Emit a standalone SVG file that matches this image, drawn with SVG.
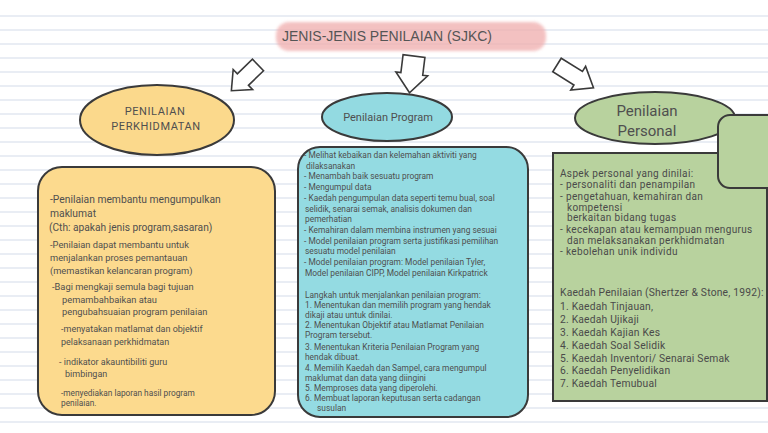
<svg xmlns="http://www.w3.org/2000/svg" width="768" height="433" viewBox="0 0 768 433">
<defs>
<style>
.rule{stroke:#e2e7f0;stroke-width:1.3}
.node{stroke:#3a3a3a;stroke-width:2}
.arrow{fill:#ffffff;stroke:#3a3a3a;stroke-width:1.6;stroke-linejoin:miter}
.t{font-family:Roboto,"Liberation Sans",sans-serif;fill:#4f4f4f}
.ly{font-size:9.3px}
.mb{font-size:8.4px}
.gr{font-size:10px;letter-spacing:0.35px;fill:#4a4a4a}
.gk{font-size:10.3px;letter-spacing:0.2px;fill:#4a4a4a}
</style>
<filter id="soft" x="-5%" y="-20%" width="110%" height="140%"><feGaussianBlur stdDeviation="1.6"/></filter>
</defs>
<rect width="768" height="433" fill="#ffffff"/>
<g id="paper">
<line class="rule" x1="0" y1="16" x2="768" y2="16"/>
<line class="rule" x1="0" y1="30" x2="768" y2="30"/>
<line class="rule" x1="0" y1="44" x2="768" y2="44"/>
<line class="rule" x1="0" y1="58" x2="768" y2="58"/>
<line class="rule" x1="0" y1="72" x2="768" y2="72"/>
<line class="rule" x1="0" y1="86" x2="768" y2="86"/>
<line class="rule" x1="0" y1="100" x2="768" y2="100"/>
<line class="rule" x1="0" y1="114" x2="768" y2="114"/>
<line class="rule" x1="0" y1="128" x2="768" y2="128"/>
<line class="rule" x1="0" y1="142" x2="768" y2="142"/>
<line class="rule" x1="0" y1="156" x2="768" y2="156"/>
<line class="rule" x1="0" y1="170" x2="768" y2="170"/>
<line class="rule" x1="0" y1="184" x2="768" y2="184"/>
<line class="rule" x1="0" y1="198" x2="768" y2="198"/>
<line class="rule" x1="0" y1="212" x2="768" y2="212"/>
<line class="rule" x1="0" y1="226" x2="768" y2="226"/>
<line class="rule" x1="0" y1="240" x2="768" y2="240"/>
<line class="rule" x1="0" y1="254" x2="768" y2="254"/>
<line class="rule" x1="0" y1="268" x2="768" y2="268"/>
<line class="rule" x1="0" y1="282" x2="768" y2="282"/>
<line class="rule" x1="0" y1="296" x2="768" y2="296"/>
<line class="rule" x1="0" y1="310" x2="768" y2="310"/>
<line class="rule" x1="0" y1="324" x2="768" y2="324"/>
<line class="rule" x1="0" y1="338" x2="768" y2="338"/>
<line class="rule" x1="0" y1="352" x2="768" y2="352"/>
<line class="rule" x1="0" y1="366" x2="768" y2="366"/>
<line class="rule" x1="0" y1="380" x2="768" y2="380"/>
<line class="rule" x1="0" y1="394" x2="768" y2="394"/>
<line class="rule" x1="0" y1="408" x2="768" y2="408"/>
<line class="rule" x1="0" y1="422" x2="768" y2="422"/>
</g>

<g id="title">
<rect x="276" y="22" width="270" height="29" rx="13" fill="#f0adad" opacity="0.75" filter="url(#soft)"/>
<text x="387" y="41" text-anchor="middle" style="font-family:'Liberation Sans',Arial,sans-serif;font-size:14px;fill:#555555">JENIS-JENIS PENILAIAN (SJKC)</text>
</g>

<g id="connectors">
<polygon class="arrow" transform="translate(258,65) rotate(136)" points="0,-8 21,-8 21,-14 37,0 21,14 21,8 0,8"/>
<polygon class="arrow" transform="translate(414,56) rotate(97)" points="0,-11 18,-11 18,-16 37,0 18,16 18,11 0,11"/>
<polygon class="arrow" transform="translate(557,65) rotate(32)" points="0,-8 25,-8 25,-14 43,0 25,14 25,8 0,8"/>
</g>

<g id="node-perkhidmatan">
<ellipse class="node" cx="157" cy="120" rx="77" ry="35" fill="#fbd98c"/>
<text class="t" x="155" y="115" text-anchor="middle" style="font-size:11px;letter-spacing:0.6px">PENILAIAN</text>
<text class="t" x="156" y="130" text-anchor="middle" style="font-size:11px;letter-spacing:0.6px">PERKHIDMATAN</text>
</g>

<g id="node-program">
<ellipse class="node" cx="387" cy="117" rx="65" ry="24" fill="#93dae1"/>
<text class="t" x="388" y="121" text-anchor="middle" style="font-size:11px">Penilaian Program</text>
</g>

<g id="node-personal">
<ellipse class="node" cx="655" cy="118" rx="80" ry="26" fill="#b8d29e"/>
<text class="t" x="647" y="116" text-anchor="middle" style="font-size:15px">Penilaian</text>
<text class="t" x="647" y="136" text-anchor="middle" style="font-size:15px">Personal</text>
</g>

<g id="box-perkhidmatan">
<rect class="node" x="38" y="167" width="237" height="248" rx="24" fill="#fcda8e"/>
<text class="t" x="50" y="203" style="font-size:10.3px">-Penilaian membantu mengumpulkan</text>
<text class="t" x="50" y="217" style="font-size:10.3px">maklumat</text>
<text class="t" x="49" y="231" style="font-size:10.2px">(Cth: apakah jenis program,sasaran)</text>
<text class="t ly" x="50" y="248">-Penilaian dapat membantu untuk</text>
<text class="t ly" x="50" y="261">menjalankan proses pemantauan</text>
<text class="t ly" x="50" y="274">(memastikan kelancaran program)</text>
<text class="t ly" x="52" y="290">-Bagi mengkaji semula bagi tujuan</text>
<text class="t ly" x="62" y="303">pemambahbaikan atau</text>
<text class="t ly" x="62" y="315">pengubahsuaian program  penilaian</text>
<text class="t" x="61" y="332" style="font-size:9px">-menyatakan matlamat dan objektif</text>
<text class="t" x="61" y="345" style="font-size:9px">pelaksanaan perkhidmatan</text>
<text class="t" x="59" y="365" style="font-size:9px">- indikator akauntibiliti guru</text>
<text class="t" x="65" y="377" style="font-size:9px">bimbingan</text>
<text class="t" x="61" y="396" style="font-size:8.3px">-menyediakan laporan hasil program</text>
<text class="t" x="61" y="406" style="font-size:8.3px">penilaian.</text>
</g>

<g id="box-program">
<rect class="node" x="298" y="147" width="230" height="270" rx="22" fill="#94dbe2"/>
<text class="t mb" x="304" y="158">- Melihat kebaikan dan kelemahan aktiviti yang</text>
<text class="t mb" x="306" y="168.7">dilaksanakan</text>
<text class="t mb" x="304" y="179.4">- Menambah baik sesuatu program</text>
<text class="t mb" x="304" y="190">- Mengumpul data</text>
<text class="t mb" x="304" y="200.8">- Kaedah pengumpulan data seperti temu bual, soal</text>
<text class="t mb" x="305" y="211.5">selidik, senarai semak, analisis dokumen dan</text>
<text class="t mb" x="305" y="222">pemerhatian</text>
<text class="t mb" x="304" y="233">- Kemahiran dalam membina instrumen yang sesuai</text>
<text class="t mb" x="304" y="243.6">- Model penilaian program serta justifikasi pemilihan</text>
<text class="t mb" x="305" y="254">sesuatu model penilaian</text>
<text class="t mb" x="304" y="265">- Model penilaian program: Model penilaian Tyler,</text>
<text class="t mb" x="305" y="276">Model penilaian CIPP, Model penilaian Kirkpatrick</text>
<text class="t mb" x="305" y="298">Langkah untuk menjalankan penilaian program:</text>
<text class="t mb" x="305" y="308">1. Menentukan dan memilih program yang hendak</text>
<text class="t mb" x="305" y="317.5">dikaji atau untuk dinilai.</text>
<text class="t mb" x="305" y="327.5">2. Menentukan Objektif atau Matlamat Penilaian</text>
<text class="t mb" x="305" y="337.5">Program tersebut.</text>
<text class="t mb" x="305" y="350">3. Menentukan Kriteria Penilaian Program yang</text>
<text class="t mb" x="305" y="360">hendak dibuat.</text>
<text class="t mb" x="305" y="371">4. Memilih Kaedah dan Sampel, cara mengumpul</text>
<text class="t mb" x="305" y="380.5">maklumat dan data yang diingini</text>
<text class="t mb" x="305" y="391">5. Memproses data yang diperolehi.</text>
<text class="t mb" x="305" y="401">6. Membuat laporan keputusan serta cadangan</text>
<text class="t mb" x="317" y="411">susulan</text>
</g>

<g id="box-personal">
<rect class="node" x="553" y="153" width="214" height="248" fill="#b8d29e"/>
<text class="t gr" x="560" y="177">Aspek personal yang dinilai:</text>
<text class="t gr" x="560" y="188">- personaliti dan penampilan</text>
<text class="t gr" x="560" y="199.5">- pengetahuan, kemahiran dan</text>
<text class="t gr" x="567" y="210.5">kompetensi</text>
<text class="t gr" x="567" y="221">berkaitan bidang tugas</text>
<text class="t gr" x="560" y="232.5">- kecekapan atau kemampuan mengurus</text>
<text class="t gr" x="567" y="243.5">dan melaksanakan perkhidmatan</text>
<text class="t gr" x="560" y="254.5">- kebolehan unik individu</text>
<text class="t gk" x="560" y="296">Kaedah Penilaian (Shertzer &amp; Stone, 1992):</text>
<text class="t gk" x="560" y="310">1. Kaedah Tinjauan,</text>
<text class="t gk" x="560" y="323">2. Kaedah Ujikaji</text>
<text class="t gk" x="560" y="336">3. Kaedah Kajian Kes</text>
<text class="t gk" x="560" y="349">4. Kaedah Soal Selidik</text>
<text class="t gk" x="560" y="361.5">5. Kaedah Inventori/ Senarai Semak</text>
<text class="t gk" x="560" y="374">6. Kaedah Penyelidikan</text>
<text class="t gk" x="560" y="387">7. Kaedah Temubual</text>
</g>

<g id="box-side">
<rect class="node" x="718" y="115" width="70" height="73" rx="12" fill="#b8d29e"/>
</g>
</svg>
